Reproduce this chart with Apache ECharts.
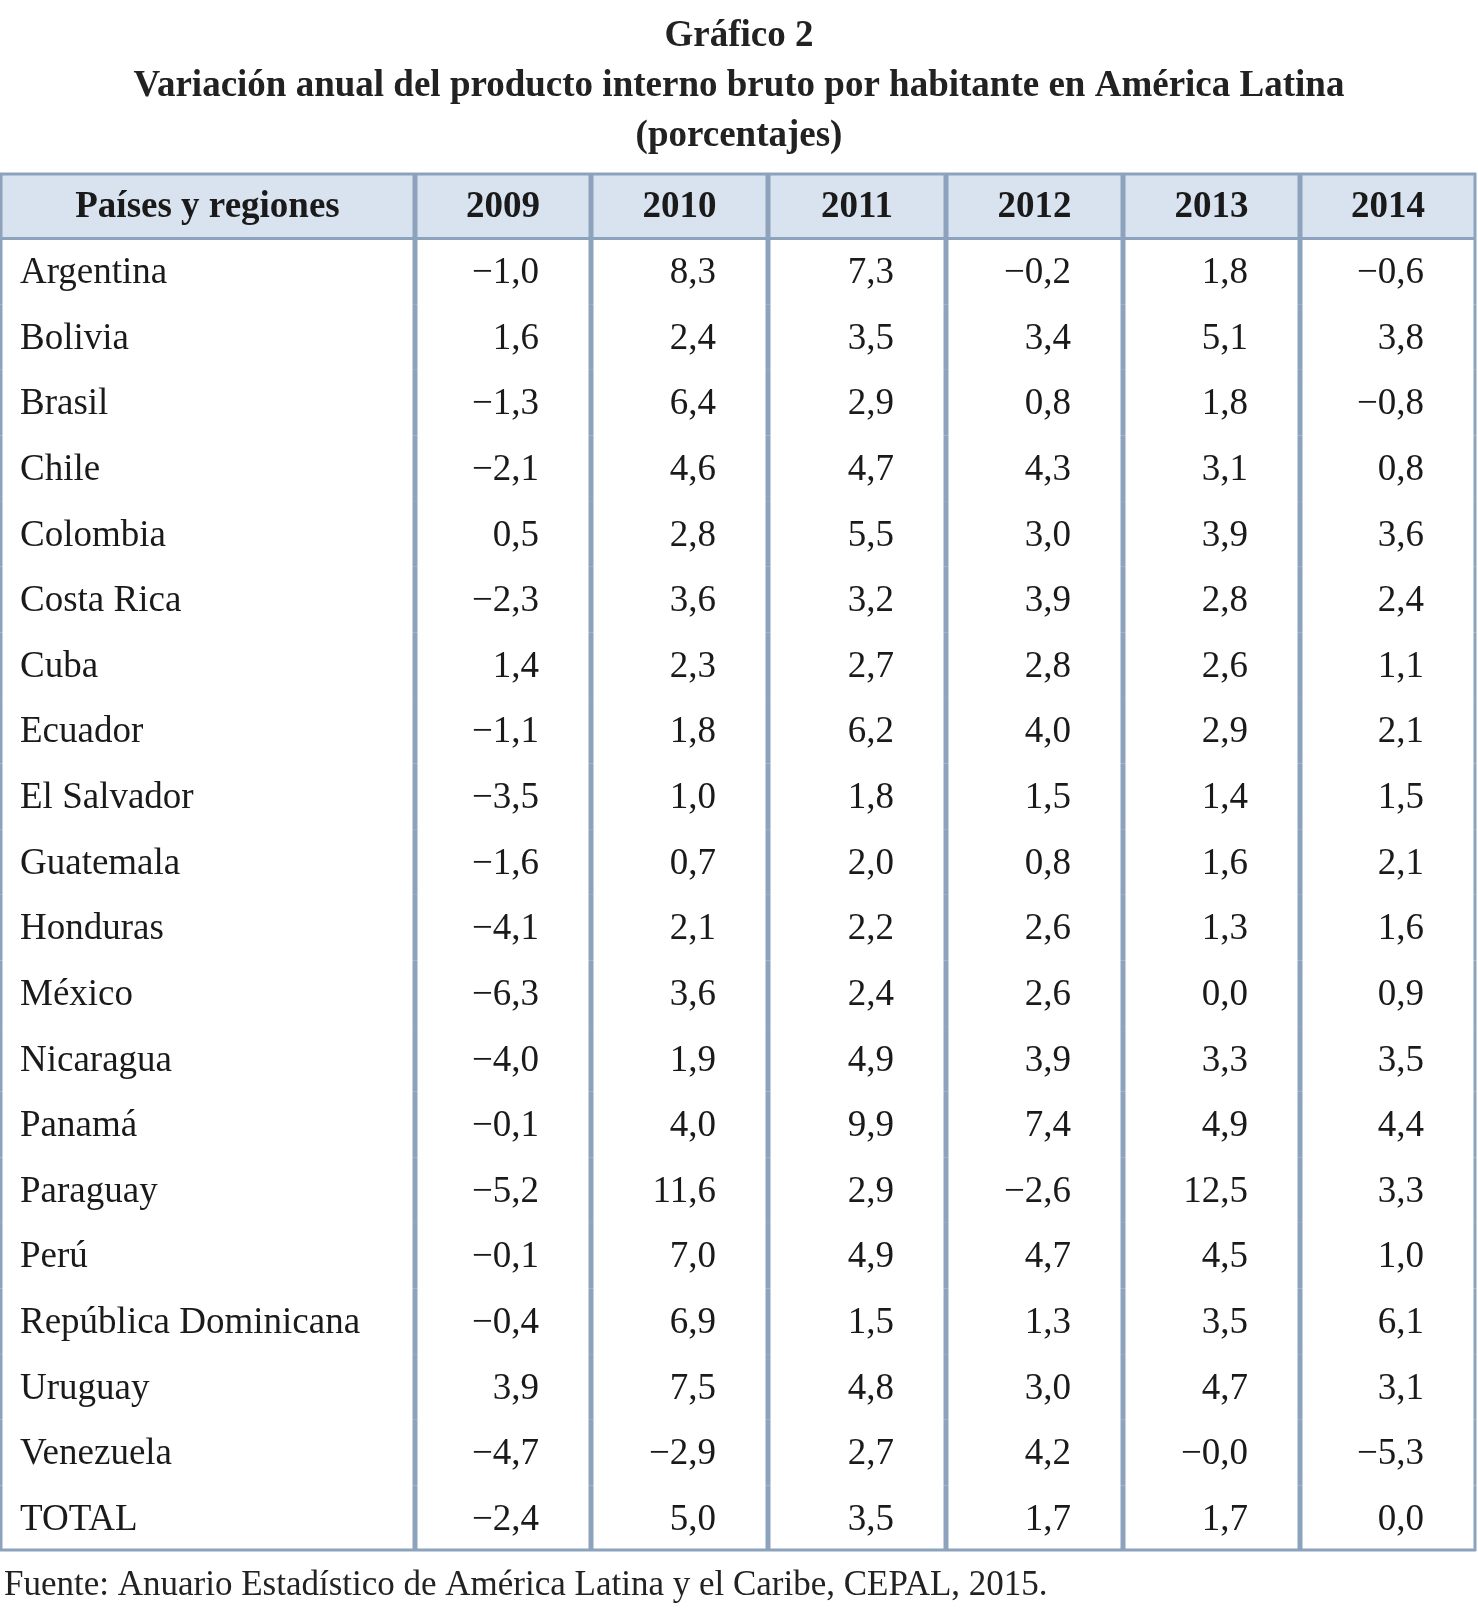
<!DOCTYPE html>
<html><head><meta charset="utf-8">
<script src="https://cdn.jsdelivr.net/npm/echarts@6/dist/echarts.min.js"></script>
<style>html,body{margin:0;background:#fff}#main{width:1478px;height:1621px}</style>
</head><body><div id="main"></div>
<script>
const countries = ['Argentina','Bolivia','Brasil','Chile','Colombia','Costa Rica','Cuba','Ecuador','El Salvador','Guatemala','Honduras','México','Nicaragua','Panamá','Paraguay','Perú','República Dominicana','Uruguay','Venezuela','TOTAL'];
const years = ['2009','2010','2011','2012','2013','2014'];
const y2009 = [-1.0,1.6,-1.3,-2.1,0.5,-2.3,1.4,-1.1,-3.5,-1.6,-4.1,-6.3,-4.0,-0.1,-5.2,-0.1,-0.4,3.9,-4.7,-2.4];
const y2010 = [8.3,2.4,6.4,4.6,2.8,3.6,2.3,1.8,1.0,0.7,2.1,3.6,1.9,4.0,11.6,7.0,6.9,7.5,-2.9,5.0];
const y2011 = [7.3,3.5,2.9,4.7,5.5,3.2,2.7,6.2,1.8,2.0,2.2,2.4,4.9,9.9,2.9,4.9,1.5,4.8,2.7,3.5];
const y2012 = [-0.2,3.4,0.8,4.3,3.0,3.9,2.8,4.0,1.5,0.8,2.6,2.6,3.9,7.4,-2.6,4.7,1.3,3.0,4.2,1.7];
const y2013 = [1.8,5.1,1.8,3.1,3.9,2.8,2.6,2.9,1.4,1.6,1.3,0.0,3.3,4.9,12.5,4.5,3.5,4.7,'-0.0',1.7];
const y2014 = [-0.6,3.8,-0.8,0.8,3.6,2.4,1.1,2.1,1.5,2.1,1.6,0.9,3.5,4.4,3.3,1.0,6.1,3.1,-5.3,0.0];
const yearValues = [y2009,y2010,y2011,y2012,y2013,y2014];

// column edges in x-axis units
const colEdges = [0,415,591,768,946,1123,1300,1476];
const rows = ['header'].concat(countries);

function fmt(v){
  if (typeof v === 'string') return v.replace('-', '\u2212').replace('.', ',');
  const s = Math.abs(v).toFixed(1).replace('.', ',');
  return (v < 0 ? '\u2212' : '') + s;
}

const data = [];
data.push([0, 0, 'Países y regiones']);
years.forEach((y, j) => data.push([j + 1, 0, y]));
countries.forEach((c, i) => {
  data.push([0, i + 1, c]);
  yearValues.forEach((arr, j) => data.push([j + 1, i + 1, fmt(arr[i])]));
});

const chart = echarts.init(document.getElementById('main'));
const font = '"Liberation Serif", "DejaVu Serif", serif';
const border = '#8da3bd';
chart.setOption({
  title: {
    text: 'Gráfico 2\nVariación anual del producto interno bruto por habitante en América Latina\n(porcentajes)',
    left: 'center', top: 6,
    textStyle: { fontFamily: font, fontSize: 37, fontWeight: 'bold', color: '#222', lineHeight: 50 }
  },
  graphic: [{
    type: 'text', left: 4, top: 1568,
    style: { text: 'Fuente: Anuario Estadístico de América Latina y el Caribe, CEPAL, 2015.', font: '35px ' + font, fill: '#222' }
  }],
  grid: { left: 0, top: 173, width: 1476, height: 1378 },
  xAxis: { type: 'value', min: 0, max: 1476, show: false },
  yAxis: { type: 'category', data: rows, inverse: true, show: false },
  series: [{
    type: 'custom',
    data: data,
    renderItem: function (params, api) {
      const col = api.value(0), row = api.value(1), text = data[params.dataIndex][2];
      const x0 = api.coord([colEdges[col], row])[0];
      const x1 = api.coord([colEdges[col + 1], row])[0];
      const bw = api.size([0, 1])[1];
      const yc = api.coord([0, row])[1];
      const top = yc - bw / 2, bot = yc + bw / 2;
      const header = row === 0;
      const children = [];
      if (header) {
        children.push({ type: 'rect', shape: { x: x0, y: top, width: x1 - x0, height: bw }, style: { fill: '#d9e3ef' } });
      }
      children.push({ type: 'line', shape: { x1: x0 + 1, y1: top, x2: x0 + 1, y2: bot }, style: { stroke: border, lineWidth: 3 } });
      children.push({ type: 'line', shape: { x1: x1 - 1, y1: top, x2: x1 - 1, y2: bot }, style: { stroke: border, lineWidth: 3 } });
      if (header) {
        children.push({ type: 'line', shape: { x1: x0, y1: top + 1, x2: x1, y2: top + 1 }, style: { stroke: border, lineWidth: 3 } });
        children.push({ type: 'line', shape: { x1: x0, y1: bot, x2: x1, y2: bot }, style: { stroke: border, lineWidth: 3 } });
      }
      if (row === rows.length - 1) {
        children.push({ type: 'line', shape: { x1: x0, y1: bot - 1, x2: x1, y2: bot - 1 }, style: { stroke: border, lineWidth: 3 } });
      }
      let tx, align;
      if (header) { tx = (x0 + x1) / 2; align = 'center'; }
      else if (col === 0) { tx = x0 + 20; align = 'left'; }
      else { tx = x1 - 52; align = 'right'; }
      children.push({
        type: 'text',
        style: {
          text: text, x: tx, y: yc + 2, align: align, verticalAlign: 'middle',
          font: (header ? 'bold ' : '') + '37px ' + font, fill: '#1a1a1a'
        }
      });
      return { type: 'group', children: children };
    }
  }]
});
</script></body></html>
